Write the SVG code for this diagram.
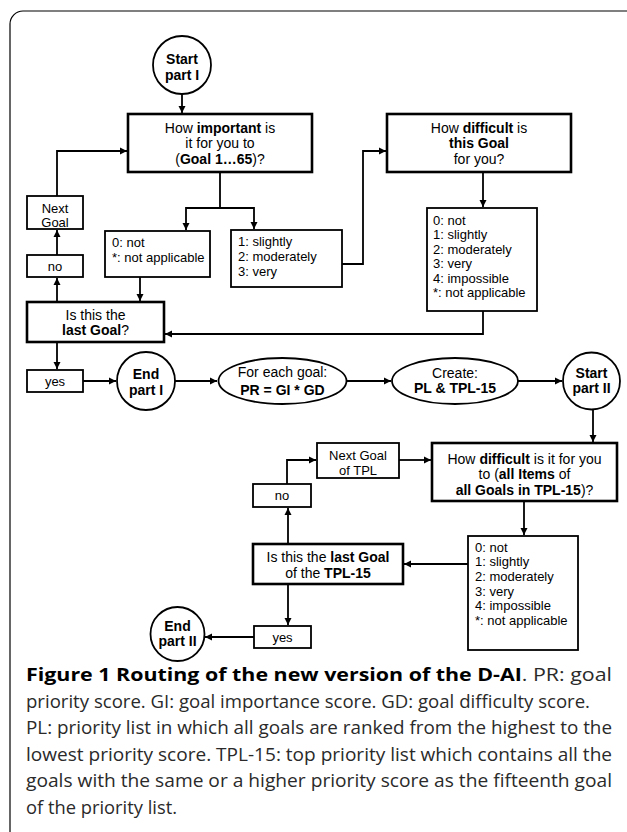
<svg xmlns="http://www.w3.org/2000/svg" width="627" height="832" viewBox="0 0 627 832">
<style>
.q{fill:#fff;stroke:#000;stroke-width:2.6}
.o{fill:#fff;stroke:#000;stroke-width:1.8}
.c{fill:#fff;stroke:#000;stroke-width:1.8}
.t{font-family:"Liberation Sans",Arial,sans-serif;font-size:14px;fill:#000}
.s{font-family:"Liberation Sans",Arial,sans-serif;font-size:13px;fill:#000}
.m{text-anchor:middle}
.b{font-weight:bold}
.e{fill:none;stroke:#000;stroke-width:1.8;marker-end:url(#ah)}
.cap{font-family:"Open Sans","Noto Sans",sans-serif;font-size:18.5px;fill:#2a2a2a}
</style>
<defs>
<marker id="ah" viewBox="0 0 10 10" refX="10" refY="5" markerWidth="4" markerHeight="4" orient="auto" markerUnits="strokeWidth">
<path d="M0,0 L10,5 L0,10 z" fill="#000"/>
</marker>
</defs>
<rect x="10" y="11" width="640" height="850" rx="13" fill="none" stroke="#000" stroke-width="1.2"/>

<g id="connectors">
<path class="e" d="M182,94 V113"/>
<path class="e" d="M220,172 V208 H186 V230"/>
<path class="e" d="M220,208 H254 V229"/>
<path class="e" d="M140,277 V301"/>
<path class="e" d="M342,264 H363 V151 H386"/>
<path class="e" d="M483,172 V207"/>
<path class="e" d="M483,311 V334 H165"/>
<path class="e" d="M57,302 V278"/>
<path class="e" d="M57,255 V230"/>
<path class="e" d="M57,196 V151 H127"/>
<path class="e" d="M57,342 V369"/>
<path class="e" d="M83,381 H116"/>
<path class="e" d="M175,381 H217"/>
<path class="e" d="M347,381 H391"/>
<path class="e" d="M518,381 H562"/>
<path class="e" d="M593,410 V442"/>
<path class="e" d="M524,501 V535"/>
<path class="e" d="M468,564 H404"/>
<path class="e" d="M288,544 V508"/>
<path class="e" d="M287,484 V460 H316"/>
<path class="e" d="M399,460 H431"/>
<path class="e" d="M288,584 V625"/>
<path class="e" d="M254,637 H205"/>
</g>

<g id="start1">
<circle class="c" cx="182" cy="65" r="29"/>
<text class="t m b" x="182" y="64">Start</text>
<text class="t m b" x="182" y="80">part I</text>
</g>

<g id="importance">
<rect class="q" x="128" y="114" width="184" height="58"/>
<text class="t m" x="220" y="133">How <tspan class="b">important</tspan> is</text>
<text class="t m" x="220" y="148">it for you to</text>
<text class="t m" x="220" y="164">(<tspan class="b">Goal 1…65</tspan>)?</text>
</g>

<g id="imp-not">
<rect class="o" x="105" y="231" width="105" height="46"/>
<text class="s" x="112" y="247">0: not</text>
<text class="s" x="112" y="262">*: not applicable</text>
</g>

<g id="imp-yes">
<rect class="o" x="231" y="230" width="111" height="57"/>
<text class="s" x="238" y="245.5">1: slightly</text>
<text class="s" x="238" y="261">2: moderately</text>
<text class="s" x="238" y="275.5">3: very</text>
</g>

<g id="difficulty1">
<rect class="q" x="387" y="114" width="184" height="58"/>
<text class="t m" x="479" y="133">How <tspan class="b">difficult</tspan> is</text>
<text class="t m b" x="479" y="148">this Goal</text>
<text class="t m" x="479" y="164">for you?</text>
</g>

<g id="diff-options1">
<rect class="o" x="427" y="208" width="110" height="103"/>
<text class="s" x="433" y="224.5">0: not</text>
<text class="s" x="433" y="239">1: slightly</text>
<text class="s" x="433" y="253.5">2: moderately</text>
<text class="s" x="433" y="268">3: very</text>
<text class="s" x="433" y="282.5">4: impossible</text>
<text class="s" x="433" y="297">*: not applicable</text>
</g>

<g id="nextgoal1">
<rect class="o" x="27" y="196" width="56" height="33"/>
<text class="s m" x="55" y="212.5">Next</text>
<text class="s m" x="55" y="226.5">Goal</text>
</g>

<g id="no1">
<rect class="o" x="27" y="255" width="56" height="22"/>
<text class="s m" x="55" y="270.5">no</text>
</g>

<g id="lastgoal1">
<rect class="q" x="27" y="302" width="137" height="40"/>
<text class="t m" x="95.5" y="320">Is this the</text>
<text class="t m" x="95.5" y="335"><tspan class="b">last Goal</tspan>?</text>
</g>

<g id="yes1">
<rect class="o" x="27" y="370" width="56" height="22"/>
<text class="s m" x="55" y="385.5">yes</text>
</g>

<g id="end1">
<circle class="c" cx="146" cy="381" r="29"/>
<text class="t m b" x="146" y="379">End</text>
<text class="t m b" x="146" y="395">part I</text>
</g>

<g id="pr">
<ellipse class="c" cx="282.5" cy="381" rx="64" ry="23"/>
<text class="t m" x="282.5" y="377">For each goal:</text>
<text class="t m b" x="282.5" y="395">PR = GI * GD</text>
</g>

<g id="create">
<ellipse class="c" cx="455" cy="381" rx="63" ry="23"/>
<text class="t m" x="455" y="378">Create:</text>
<text class="t m b" x="455" y="393">PL &amp; TPL-15</text>
</g>

<g id="start2">
<circle class="c" cx="591.5" cy="381" r="28.5"/>
<text class="t m b" x="591.5" y="378">Start</text>
<text class="t m b" x="591.5" y="393">part II</text>
</g>

<g id="difficulty2">
<rect class="q" x="432" y="443" width="185" height="58"/>
<text class="t m" x="524.5" y="463.5">How <tspan class="b">difficult</tspan> is it for you</text>
<text class="t m" x="524.5" y="479">to (<tspan class="b">all Items</tspan> of</text>
<text class="t m" x="524.5" y="494.5"><tspan class="b">all Goals in TPL-15</tspan>)?</text>
</g>

<g id="diff-options2">
<rect class="o" x="468" y="536" width="110" height="114"/>
<text class="s" x="475" y="551.5">0: not</text>
<text class="s" x="475" y="566">1: slightly</text>
<text class="s" x="475" y="580.5">2: moderately</text>
<text class="s" x="475" y="595.5">3: very</text>
<text class="s" x="475" y="610">4: impossible</text>
<text class="s" x="475" y="624.5">*: not applicable</text>
</g>

<g id="nextgoal2">
<rect class="o" x="317" y="443" width="82" height="35"/>
<text class="s m" x="358" y="459.5">Next Goal</text>
<text class="s m" x="358" y="474.5">of TPL</text>
</g>

<g id="no2">
<rect class="o" x="253" y="484" width="58" height="23"/>
<text class="s m" x="282" y="500">no</text>
</g>

<g id="lastgoal2">
<rect class="q" x="253" y="544" width="150" height="40"/>
<text class="t m" x="328" y="561.5">Is this the <tspan class="b">last Goal</tspan></text>
<text class="t m" x="328" y="577.5">of the <tspan class="b">TPL-15</tspan></text>
</g>

<g id="yes2">
<rect class="o" x="254" y="626" width="57" height="22"/>
<text class="s m" x="282.5" y="641.5">yes</text>
</g>

<g id="end2">
<circle class="c" cx="177.5" cy="634" r="27"/>
<text class="t m b" x="177.5" y="631">End</text>
<text class="t m b" x="177.5" y="646">part II</text>
</g>

<g id="caption">
<text class="cap" x="26" y="681" textLength="586" lengthAdjust="spacingAndGlyphs"><tspan font-weight="bold" fill="#000">Figure 1 Routing of the new version of the D-AI</tspan>. PR: goal</text>
<text class="cap" x="26" y="707.5" textLength="564" lengthAdjust="spacingAndGlyphs">priority score. GI: goal importance score. GD: goal difficulty score.</text>
<text class="cap" x="26" y="734" textLength="586" lengthAdjust="spacingAndGlyphs">PL: priority list in which all goals are ranked from the highest to the</text>
<text class="cap" x="26" y="760.5" textLength="586" lengthAdjust="spacingAndGlyphs">lowest priority score. TPL-15: top priority list which contains all the</text>
<text class="cap" x="26" y="787" textLength="586" lengthAdjust="spacingAndGlyphs">goals with the same or a higher priority score as the fifteenth goal</text>
<text class="cap" x="26" y="813.5" textLength="151" lengthAdjust="spacingAndGlyphs">of the priority list.</text>
</g>
</svg>
